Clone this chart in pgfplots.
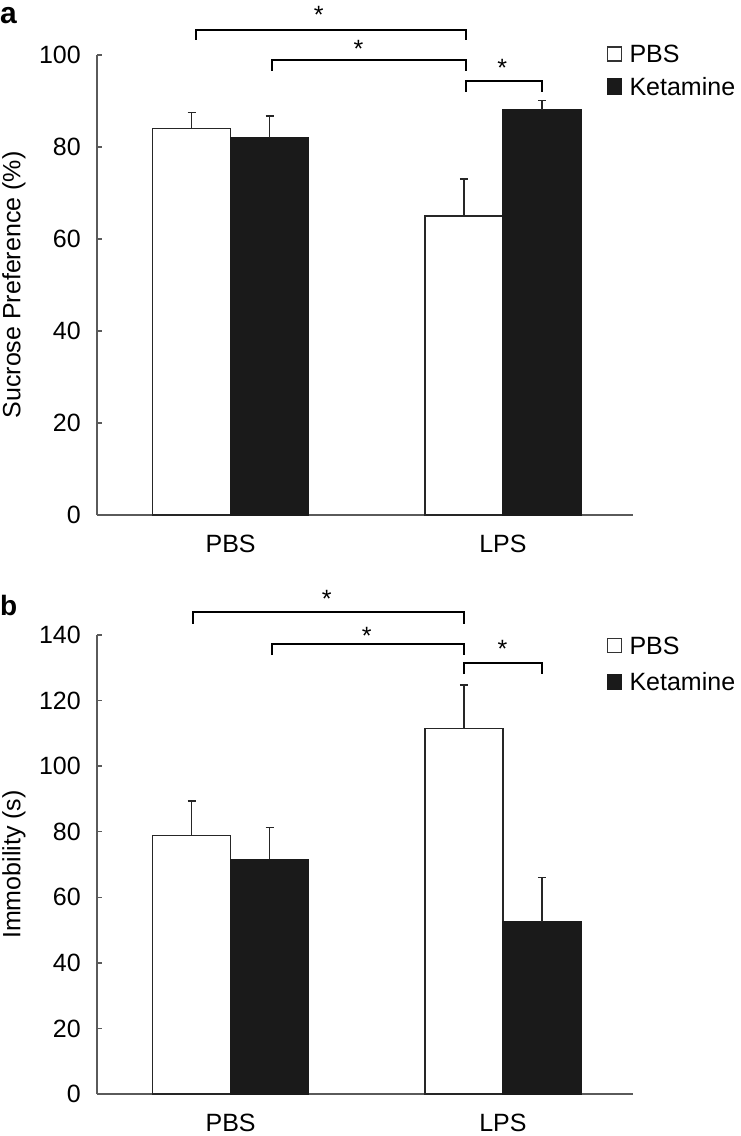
\documentclass[border=0pt]{standalone}
\usepackage{fontspec}
\setmainfont{Liberation Sans}
\usepackage{pgfplots}
\pgfplotsset{compat=1.18}
\definecolor{barblack}{HTML}{1A1A1A}
\definecolor{axgray}{HTML}{5A5A5A}
\tikzset{
  star/.style={anchor=base, inner sep=0pt, yshift=-14bp, font=\fontsize{25bp}{30bp}\selectfont},
  brk/.style={line width=2bp, draw=black},
}
\pgfplotsset{
  myax/.style={
    scale only axis, width=536bp, anchor=south west,
    xmin=-0.4905, xmax=1.4775, ymin=0,
    axis lines=left,
    axis line style={draw=axgray, line width=1.4bp, -},
    xtick={0,1}, xticklabels={PBS,LPS},
    xtick style={draw=none},
    ytick style={draw=axgray, line width=1.4bp},
    major tick length=5bp, tick align=inside,
    ybar=0pt, bar width=78bp,
    clip=false,
    /pgf/number format/assume math mode=true,
    tick label style={font=\fontsize{25bp}{30bp}\selectfont},
    label style={font=\fontsize{25bp}{30bp}\selectfont},
    yticklabel style={inner sep=0pt, xshift=-16bp},
    xticklabel style={inner sep=0pt, yshift=-14.5bp},
    ylabel style={at={(axis description cs:-0.1549,0.5)}, anchor=center},
    error bars/y dir=plus, error bars/y explicit,
    error bars/error bar style={line width=1.5bp, draw=black!85},
    error bars/error mark options={rotate=90, mark size=4bp, line width=1.5bp, draw=black!85},
    legend style={draw=none, fill=none, inner sep=0pt, anchor=north west,
      nodes={inner sep=1bp, text depth=0pt, font=\fontsize{25bp}{30bp}\selectfont}},
    legend cell align=left,
  },
  whitebar/.style={fill=white, draw=black!85, line width=1.5bp,
    legend image code/.code={\draw[fill=white, draw=black!80, line width=1.2bp] (0bp,-7bp) rectangle (14bp,7bp); \path (20bp,0bp);}},
  blackbar/.style={fill=barblack, draw=barblack, line width=1.5bp,
    legend image code/.code={\draw[fill=barblack, draw=barblack, line width=1.2bp] (0bp,-7.5bp) rectangle (14bp,7.5bp); \path (20bp,0bp);}},
}
\begin{document}
\begin{tikzpicture}[x=1bp,y=1bp,font=\fontsize{25bp}{30bp}\selectfont]
\path[use as bounding box] (0,0) rectangle (741,-1136);
\node[anchor=base west, inner sep=0pt, font=\fontsize{30bp}{36bp}\selectfont\bfseries] at (0,-23) {a};
\node[anchor=base west, inner sep=0pt, font=\fontsize{28bp}{34bp}\selectfont\bfseries] at (0,-615) {b};

% Panel a
\begin{axis}[myax, at={(97bp,-515bp)}, height=460bp, ymax=100,
  ytick={0,20,40,60,80,100},
  ylabel={Sucrose Preference (\%)},
  legend style={at={(axis description cs:0.9515,1.0239)}, row sep=12.8bp}]
\addplot[whitebar] coordinates {(0,84) +- (0,3.5) (1,65) +- (0,8)};
\addplot[blackbar] coordinates {(0,82) +- (0,4.7) (1,88) +- (0,2.1)};
\legend{PBS,Ketamine}
\draw[brk] (axis cs:-0.128,103.3) -- (axis cs:-0.128,105.4) -- (axis cs:0.8634,105.4) -- (axis cs:0.8634,103.3);
\draw[brk] (axis cs:0.1537,96.6) -- (axis cs:0.1537,98.9) -- (axis cs:0.8634,98.9) -- (axis cs:0.8634,96.6);
\draw[brk] (axis cs:0.8634,92.0) -- (axis cs:0.8634,94.4) -- (axis cs:1.145,94.4) -- (axis cs:1.145,92.0);
\node[star] at (axis cs:0.324,109.8) {*};
\node[star] at (axis cs:0.47,102.4) {*};
\node[star] at (axis cs:0.997,98.3) {*};
\end{axis}

% Panel b
\begin{axis}[myax, at={(97bp,-1094bp)}, height=459bp, ymax=140,
  ytick={0,20,40,60,80,100,120,140},
  ylabel={Immobility (s)},
  legend style={at={(axis description cs:0.9515,0.9987)}, row sep=16.6bp}]
\addplot[whitebar] coordinates {(0,78.8) +- (0,10.6) (1,111.5) +- (0,13.2)};
\addplot[blackbar] coordinates {(0,71.6) +- (0,9.7) (1,52.5) +- (0,13.6)};
\legend{PBS,Ketamine}
\draw[brk] (axis cs:-0.139,143.5) -- (axis cs:-0.139,146.9) -- (axis cs:0.858,146.9) -- (axis cs:0.858,143.5);
\draw[brk] (axis cs:0.153,133.9) -- (axis cs:0.153,137.2) -- (axis cs:0.858,137.2) -- (axis cs:0.858,133.9);
\draw[brk] (axis cs:0.858,128.1) -- (axis cs:0.858,131.5) -- (axis cs:1.145,131.5) -- (axis cs:1.145,128.1);
\node[star] at (axis cs:0.353,152.8) {*};
\node[star] at (axis cs:0.50,141.5) {*};
\node[star] at (axis cs:0.998,137.4) {*};
\end{axis}
\end{tikzpicture}
\end{document}
